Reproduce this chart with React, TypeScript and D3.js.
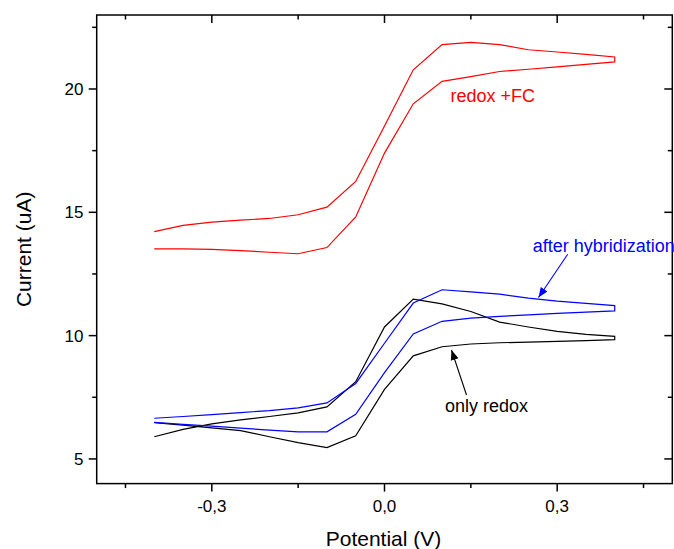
import React from "react";
import * as d3 from "d3";

const potentials = [-0.4, -0.35, -0.3, -0.25, -0.2, -0.15, -0.1, -0.05, 0, 0.05, 0.1, 0.15, 0.2, 0.25, 0.3, 0.35, 0.4];

const redForward = [13.52, 13.52, 13.5, 13.45, 13.38, 13.32, 13.57, 14.81, 17.4, 19.4, 20.31, 20.5, 20.71, 20.8, 20.9, 21.0, 21.1];
const redReverse = [14.22, 14.47, 14.6, 14.68, 14.75, 14.9, 15.21, 16.25, 18.5, 20.78, 21.8, 21.89, 21.8, 21.59, 21.5, 21.4, 21.3];

const blueForward = [6.48, 6.4, 6.33, 6.25, 6.17, 6.1, 6.1, 6.81, 8.5, 10.07, 10.58, 10.71, 10.78, 10.84, 10.9, 10.95, 11.0];
const blueReverse = [6.65, 6.72, 6.8, 6.88, 6.96, 7.07, 7.27, 8.06, 9.69, 11.32, 11.86, 11.77, 11.68, 11.52, 11.4, 11.31, 11.22];

const blackForward = [6.47, 6.37, 6.26, 6.15, 5.9, 5.66, 5.46, 5.94, 7.82, 9.18, 9.55, 9.66, 9.71, 9.74, 9.77, 9.8, 9.84];
const blackReverse = [5.9, 6.2, 6.42, 6.58, 6.72, 6.87, 7.11, 8.13, 10.35, 11.48, 11.29, 10.98, 10.55, 10.35, 10.17, 10.05, 9.97];

const xMajorTicks = [-0.3, 0, 0.3];
const xMinorTicks = [-0.45, -0.15, 0.15, 0.45];
const yMajorTicks = [5, 10, 15, 20];
const yMinorTicks = [7.5, 12.5, 17.5, 22.5];

const xTickLabel = (v: number) => (v < 0 ? "-" : "") + Math.abs(v).toFixed(1).replace(".", ",");

const FONT = "'Liberation Sans', Arial, sans-serif";

export default function App() {
  const W = 674;
  const H = 549;
  const left = 96.7;
  const right = 672.3;
  const top = 15;
  const bottom = 483.6;

  const x = d3.scaleLinear().domain([-0.5, 0.5]).range([left, right]);
  const y = d3.scaleLinear().domain([4, 23]).range([bottom, top]);

  const loop = (fwd: number[], rev: number[]) => {
    const pts: [number, number][] = [];
    potentials.forEach((p, i) => pts.push([p, fwd[i]]));
    for (let i = potentials.length - 1; i >= 0; i--) pts.push([potentials[i], rev[i]]);
    return d3.line<[number, number]>().x((d) => x(d[0])).y((d) => y(d[1]))(pts) || "";
  };

  const series = [
    { fwd: blackForward, rev: blackReverse, color: "#000000" },
    { fwd: blueForward, rev: blueReverse, color: "#0000ff" },
    { fwd: redForward, rev: redReverse, color: "#ff0000" },
  ];

  const major = 8;
  const minor = 4.5;

  return (
    <svg width={W} height={H} style={{ position: "absolute", left: 0, top: 0, background: "#fff" }}>
      <defs>
        <marker id="arrBlue" viewBox="0 0 10 10" refX="10" refY="5" markerWidth="10" markerHeight="10" markerUnits="userSpaceOnUse" orient="auto">
          <path d="M0,1 L10,5 L0,9 Z" fill="#0000ff" />
        </marker>
        <marker id="arrBlack" viewBox="0 0 10 10" refX="10" refY="5" markerWidth="10" markerHeight="10" markerUnits="userSpaceOnUse" orient="auto">
          <path d="M0,1 L10,5 L0,9 Z" fill="#000000" />
        </marker>
      </defs>
      {series.map((s, i) => (
        <path key={i} d={loop(s.fwd, s.rev)} fill="none" stroke={s.color} strokeWidth={1.2} strokeLinejoin="miter" />
      ))}

      {/* frame */}
      <rect x={left} y={top} width={right - left} height={bottom - top} fill="none" stroke="#000" strokeWidth={1.5} />

      {/* x ticks */}
      {xMajorTicks.map((t) => (
        <g key={"xm" + t}>
          <line x1={x(t)} x2={x(t)} y1={bottom} y2={bottom + major} stroke="#000" strokeWidth={1.5} />
          <line x1={x(t)} x2={x(t)} y1={top} y2={top + major} stroke="#000" strokeWidth={1.5} />
          <text x={x(t)} y={511.7} textAnchor="middle" fontFamily={FONT} fontSize={17} fill="#000">
            {xTickLabel(t)}
          </text>
        </g>
      ))}
      {xMinorTicks.map((t) => (
        <g key={"xn" + t}>
          <line x1={x(t)} x2={x(t)} y1={bottom} y2={bottom + minor} stroke="#000" strokeWidth={1.5} />
          <line x1={x(t)} x2={x(t)} y1={top} y2={top + minor} stroke="#000" strokeWidth={1.5} />
        </g>
      ))}

      {/* y ticks */}
      {yMajorTicks.map((t) => (
        <g key={"ym" + t}>
          <line x1={left - major} x2={left} y1={y(t)} y2={y(t)} stroke="#000" strokeWidth={1.5} />
          <line x1={right - major} x2={right} y1={y(t)} y2={y(t)} stroke="#000" strokeWidth={1.5} />
          <text x={83.5} y={y(t) + 6} textAnchor="end" fontFamily={FONT} fontSize={17} fill="#000">
            {t}
          </text>
        </g>
      ))}
      {yMinorTicks.map((t) => (
        <g key={"yn" + t}>
          <line x1={left - minor} x2={left} y1={y(t)} y2={y(t)} stroke="#000" strokeWidth={1.5} />
          <line x1={right - minor} x2={right} y1={y(t)} y2={y(t)} stroke="#000" strokeWidth={1.5} />
        </g>
      ))}

      {/* axis titles */}
      <text x={(left + right) / 2 - 1} y={546} textAnchor="middle" fontFamily={FONT} fontSize={21} fill="#000">
        Potential (V)
      </text>
      <text transform={`translate(31,${(top + bottom) / 2}) rotate(-90)`} textAnchor="middle" fontFamily={FONT} fontSize={21} fill="#000">
        Current (uA)
      </text>

      {/* annotations */}
      <text x={450.5} y={102} fontFamily={FONT} fontSize={18} fill="#ff0000">
        redox +FC
      </text>
      <text x={532.7} y={251.7} fontFamily={FONT} fontSize={18} fill="#0000ff">
        after hybridization
      </text>
      <line x1={567.7} y1={254.3} x2={538.5} y2={297.5} stroke="#0000ff" strokeWidth={1.1} markerEnd="url(#arrBlue)" />
      <text x={445} y={412.3} fontFamily={FONT} fontSize={18} fill="#000">
        only redox
      </text>
      <line x1={466.5} y1={395} x2={451.5} y2={350} stroke="#000" strokeWidth={1.1} markerEnd="url(#arrBlack)" />
    </svg>
  );
}
